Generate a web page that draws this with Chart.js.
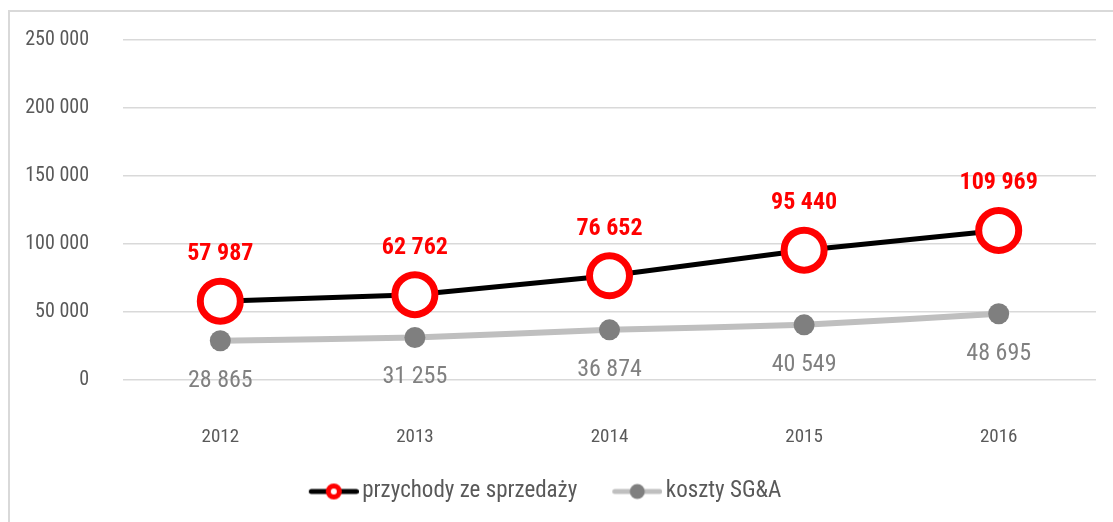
<!DOCTYPE html>
<html>
<head>
<meta charset="utf-8">
<script src="https://cdn.jsdelivr.net/npm/chart.js@4.4.1/dist/chart.umd.min.js"></script>
<style>
  html, body { margin: 0; padding: 0; background: #ffffff; }
  #wrap {
    position: absolute; left: 8px; top: 10px;
    width: 1105px; height: 512px;
    border-top: 2px solid #d9d9d9; border-left: 2px solid #d9d9d9;
    box-sizing: border-box; background: #fff;
  }
  #c { display: block; }
</style>
</head>
<body>
<div id="wrap"><canvas id="c" width="1103" height="510"></canvas></div>
<script>
// ---- data ----
const categories = ["2012", "2013", "2014", "2015", "2016"];
const revenue = [57987, 62762, 76652, 95440, 109969];
const sgaCosts = [28865, 31255, 36874, 40549, 48695];
const seriesNames = ["przychody ze sprzedaży", "koszty SG&A"];
const yTicks = [0, 50000, 100000, 150000, 200000, 250000];

const FONT = '"Liberation Sans Narrow", "Arial Narrow", "Roboto Condensed", "Liberation Sans", Arial, sans-serif';

function fmt(v) {
  return String(Math.round(v)).replace(/\B(?=(\d{3})+(?!\d))/g, ' ');
}

// legend icon: image 64 wide, visible line on the right part
function legendIcon(lineColor, lineWidth, drawMarker) {
  const cv = document.createElement('canvas');
  cv.width = 64; cv.height = 24;
  const g = cv.getContext('2d');
  g.strokeStyle = lineColor; g.lineWidth = lineWidth; g.lineCap = 'round';
  g.beginPath(); g.moveTo(16.5, 12); g.lineTo(61.5, 12); g.stroke();
  drawMarker(g, 39);
  return cv;
}
const iconRevenue = legendIcon('#000000', 5, (g, cx) => {
  g.beginPath(); g.arc(cx, 12, 5.5, 0, Math.PI * 2);
  g.fillStyle = '#ffffff'; g.fill();
  g.lineWidth = 5; g.strokeStyle = '#ff0000'; g.stroke();
});
const iconSga = legendIcon('#bfbfbf', 5, (g, cx) => {
  g.beginPath(); g.arc(cx, 12, 7.5, 0, Math.PI * 2);
  g.fillStyle = '#7f7f7f'; g.fill();
});

const valueLabels = {
  id: 'valueLabels',
  beforeDraw(chart) {
    // nudge the centred legend slightly to the left
    if (chart.legend && !chart.legend._nudged) {
      chart.legend.right -= 22;
      chart.legend._nudged = true;
    }
  },
  afterDatasetsDraw(chart) {
    const ctx = chart.ctx;
    ctx.save();
    ctx.textAlign = 'center';
    ctx.textBaseline = 'middle';
    chart.data.datasets.forEach((ds, di) => {
      const meta = chart.getDatasetMeta(di);
      meta.data.forEach((pt, i) => {
        const v = ds.data[i];
        if (di === 0) {
          ctx.font = 'bold 24px ' + FONT;
          ctx.fillStyle = '#ff0000';
          ctx.fillText(fmt(v), pt.x, pt.y - 47);
        } else {
          ctx.font = '24px ' + FONT;
          ctx.fillStyle = '#808080';
          ctx.fillText(fmt(v), pt.x, pt.y + 40);
        }
      });
    });
    ctx.restore();
  }
};

new Chart(document.getElementById('c'), {
  type: 'line',
  data: {
    labels: categories,
    datasets: [
      {
        label: seriesNames[0],
        data: revenue,
        borderColor: '#000000',
        borderWidth: 5,
        pointRadius: 20,
        pointBorderWidth: 7,
        pointBorderColor: '#ff0000',
        pointBackgroundColor: '#ffffff',
        pointHoverRadius: 20,
        tension: 0,
        legendIcon: iconRevenue
      },
      {
        label: seriesNames[1],
        data: sgaCosts,
        borderColor: '#bfbfbf',
        borderWidth: 6,
        pointRadius: 10.5,
        pointBorderWidth: 0,
        pointBackgroundColor: '#7f7f7f',
        pointBorderColor: '#7f7f7f',
        pointHoverRadius: 10.5,
        tension: 0.2,
        legendIcon: iconSga
      }
    ]
  },
  options: {
    responsive: false,
    animation: false,
    events: [],
    layout: { autoPadding: false, padding: { top: 28, right: 17, left: 0, bottom: 9 } },
    plugins: {
      tooltip: { enabled: false },
      legend: {
        position: 'bottom',
        labels: {
          color: '#595959',
          font: { family: FONT, size: 23 },
          usePointStyle: true,
          pointStyleWidth: 48,
          padding: 29,
          generateLabels(chart) {
            return chart.data.datasets.map((ds, i) => ({
              text: ds.label,
              pointStyle: ds.legendIcon,
              fillStyle: 'transparent',
              strokeStyle: 'transparent',
              lineWidth: 0,
              hidden: false,
              datasetIndex: i,
              fontColor: '#595959'
            }));
          }
        }
      }
    },
    scales: {
      x: {
        offset: true,
        grid: { display: false, drawTicks: false },
        border: { display: false },
        ticks: { color: '#595959', font: { family: FONT, size: 19 }, padding: 46 },
        afterFit(scale) { scale.height = 71; }
      },
      y: {
        min: 0,
        max: 250000,
        afterBuildTicks(scale) { scale.ticks = yTicks.map(v => ({ value: v })); },
        grid: { color: '#d9d9d9', lineWidth: 1.5, drawTicks: false },
        border: { display: false },
        ticks: {
          color: '#595959',
          font: { family: FONT, size: 20 },
          padding: 34,
          callback: v => fmt(v)
        },
        afterFit(scale) {
          scale.width = 113;
          scale.paddingTop = 0;
          scale.paddingBottom = 0;
        }
      }
    }
  },
  plugins: [valueLabels]
});
</script>
</body>
</html>
